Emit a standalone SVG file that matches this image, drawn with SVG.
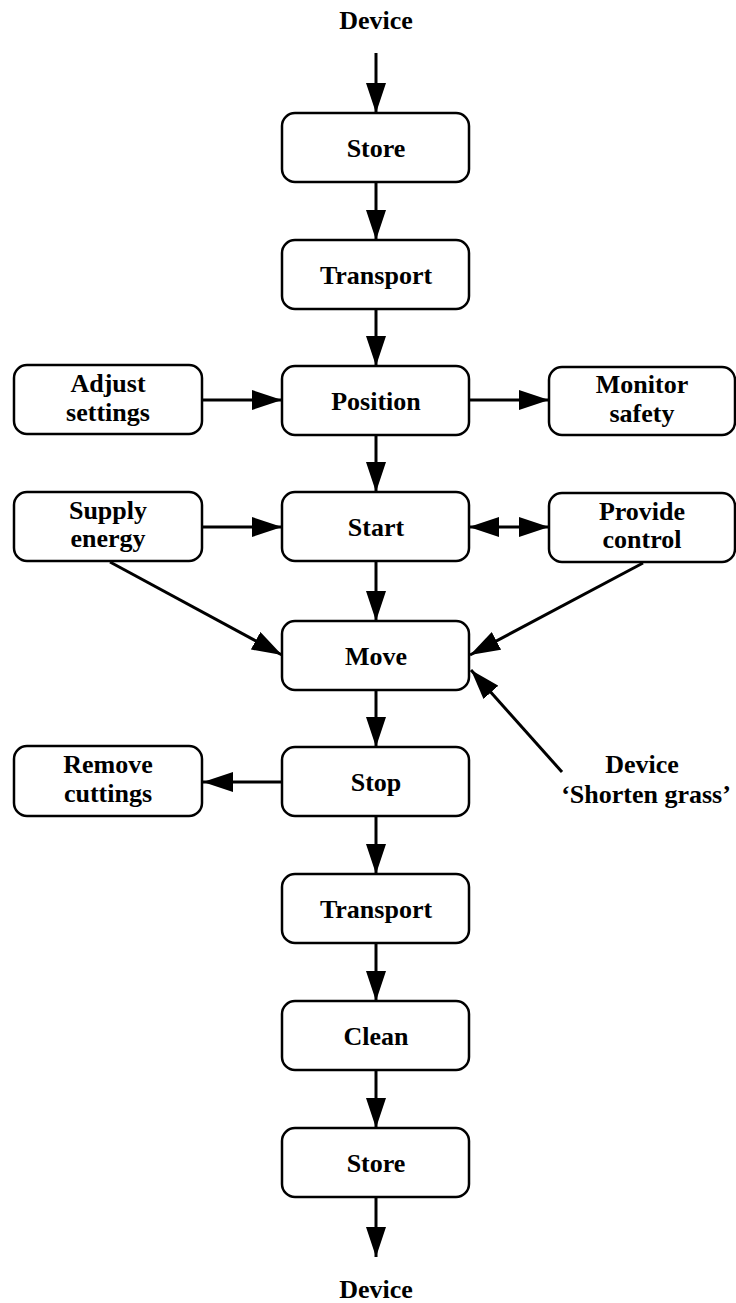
<svg xmlns="http://www.w3.org/2000/svg" width="736" height="1303" viewBox="0 0 736 1303">
  <defs>
    <marker id="arrow" markerUnits="userSpaceOnUse" markerWidth="30" markerHeight="20" refX="30" refY="10" orient="auto-start-reverse">
      <path d="M0,0 L30,10 L0,20 z" fill="#000"/>
    </marker>
    <style>
      .box { fill: #fff; stroke: #000; stroke-width: 2.5; }
      .lbl { font-family: "Liberation Serif", "Times New Roman", serif; font-weight: bold; font-size: 26px; text-anchor: middle; fill: #000; }
      .wire { stroke: #000; stroke-width: 3; fill: none; marker-end: url(#arrow); }
      .both { marker-start: url(#arrow); }
    </style>
  </defs>
  <rect width="736" height="1303" fill="#fff"/>

  <!-- connectors -->
  <g id="connectors">
    <line class="wire" x1="376" y1="53" x2="376" y2="113"/>
    <line class="wire" x1="376" y1="182" x2="376" y2="240"/>
    <line class="wire" x1="376" y1="309" x2="376" y2="366"/>
    <line class="wire" x1="202" y1="400" x2="282" y2="400"/>
    <line class="wire" x1="469" y1="400" x2="549" y2="400"/>
    <line class="wire" x1="376" y1="435" x2="376" y2="492"/>
    <line class="wire" x1="202" y1="527" x2="282" y2="527"/>
    <line class="wire both" x1="469" y1="527" x2="549" y2="527"/>
    <line class="wire" x1="376" y1="561" x2="376" y2="621"/>
    <line class="wire" x1="110" y1="562" x2="282" y2="655"/>
    <line class="wire" x1="643" y1="563" x2="470" y2="655"/>
    <line class="wire" x1="562" y1="772" x2="471" y2="670"/>
    <line class="wire" x1="376" y1="690" x2="376" y2="747"/>
    <line class="wire" x1="282" y1="782" x2="203" y2="782"/>
    <line class="wire" x1="376" y1="816" x2="376" y2="874"/>
    <line class="wire" x1="376" y1="943" x2="376" y2="1001"/>
    <line class="wire" x1="376" y1="1070" x2="376" y2="1128"/>
    <line class="wire" x1="376" y1="1197" x2="376" y2="1257"/>
  </g>

  <!-- free labels -->
  <g id="device-in"><text class="lbl" x="376" y="29">Device</text></g>
  <g id="device-out"><text class="lbl" x="376" y="1298">Device</text></g>
  <g id="device-shorten">
    <text class="lbl" x="642" y="773">Device</text>
    <text class="lbl" x="646" y="803">‘Shorten grass’</text>
  </g>

  <!-- main column -->
  <g id="store-1"><rect class="box" x="282" y="113" width="187" height="69" rx="13"/><text class="lbl" x="376" y="157">Store</text></g>
  <g id="transport-1"><rect class="box" x="282" y="240" width="187" height="69" rx="13"/><text class="lbl" x="376" y="284">Transport</text></g>
  <g id="position"><rect class="box" x="282" y="366" width="187" height="69" rx="13"/><text class="lbl" x="376" y="410">Position</text></g>
  <g id="start"><rect class="box" x="282" y="492" width="187" height="69" rx="13"/><text class="lbl" x="376" y="536">Start</text></g>
  <g id="move"><rect class="box" x="282" y="621" width="187" height="69" rx="13"/><text class="lbl" x="376" y="665">Move</text></g>
  <g id="stop"><rect class="box" x="282" y="747" width="187" height="69" rx="13"/><text class="lbl" x="376" y="791">Stop</text></g>
  <g id="transport-2"><rect class="box" x="282" y="874" width="187" height="69" rx="13"/><text class="lbl" x="376" y="918">Transport</text></g>
  <g id="clean"><rect class="box" x="282" y="1001" width="187" height="69" rx="13"/><text class="lbl" x="376" y="1045">Clean</text></g>
  <g id="store-2"><rect class="box" x="282" y="1128" width="187" height="69" rx="13"/><text class="lbl" x="376" y="1172">Store</text></g>

  <!-- side functions -->
  <g id="adjust-settings"><rect class="box" x="14" y="365" width="188" height="69" rx="13"/><text class="lbl" x="108" y="392">Adjust</text><text class="lbl" x="108" y="421">settings</text></g>
  <g id="monitor-safety"><rect class="box" x="549" y="367" width="186" height="68" rx="13"/><text class="lbl" x="642" y="393">Monitor</text><text class="lbl" x="642" y="422">safety</text></g>
  <g id="supply-energy"><rect class="box" x="14" y="492" width="188" height="69" rx="13"/><text class="lbl" x="108" y="519">Supply</text><text class="lbl" x="108" y="547">energy</text></g>
  <g id="provide-control"><rect class="box" x="549" y="493" width="186" height="69" rx="13"/><text class="lbl" x="642" y="520">Provide</text><text class="lbl" x="642" y="548">control</text></g>
  <g id="remove-cuttings"><rect class="box" x="14" y="746" width="188" height="70" rx="13"/><text class="lbl" x="108" y="773">Remove</text><text class="lbl" x="108" y="802">cuttings</text></g>
</svg>
